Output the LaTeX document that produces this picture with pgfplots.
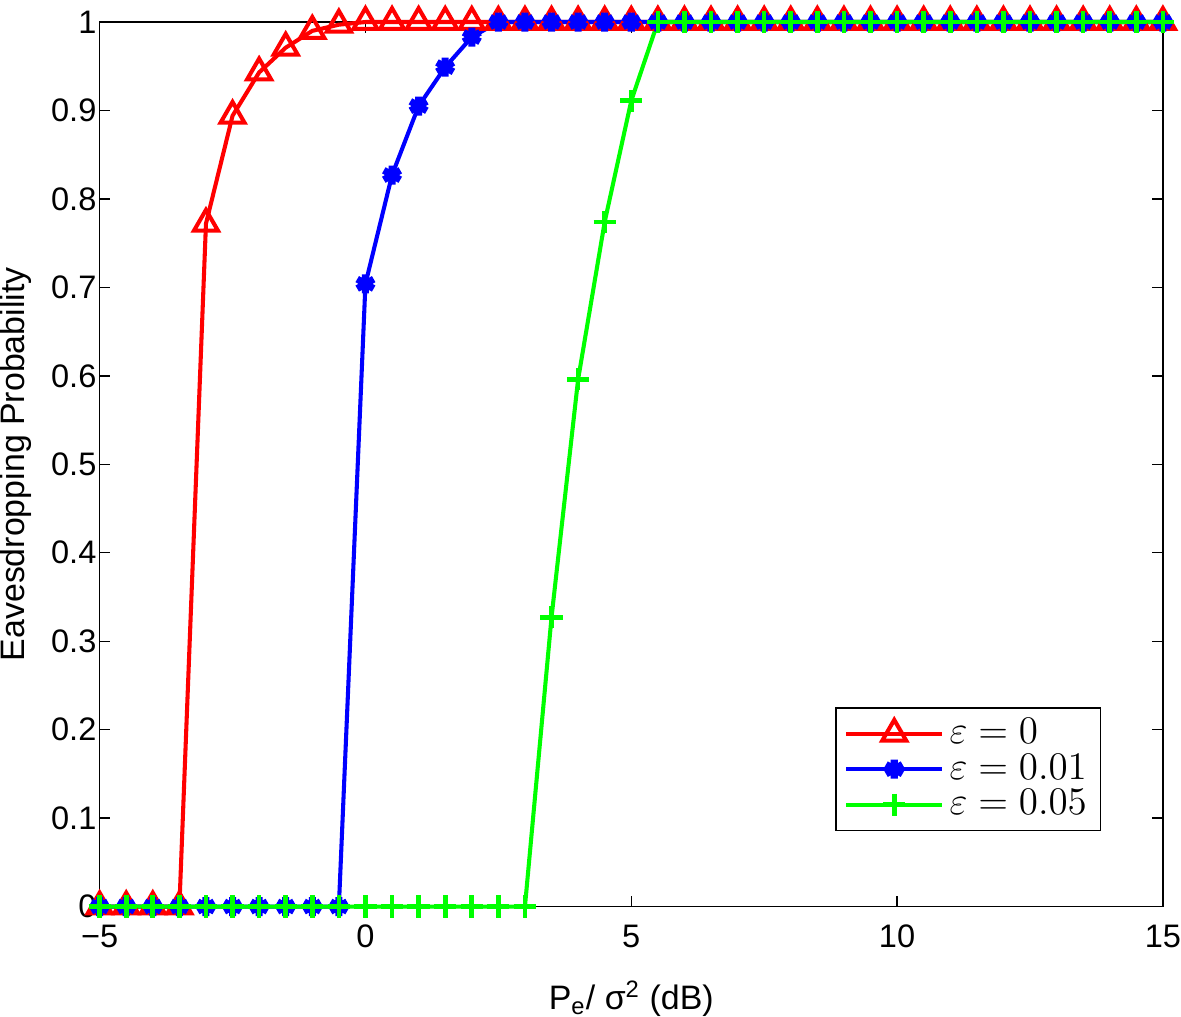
\documentclass[border=0pt]{standalone}
\usepackage{pgfplots}
\pgfplotsset{compat=1.18}
\usepackage{fontspec}
\setmainfont{Liberation Sans}
\begin{document}
\fontsize{12}{14}\selectfont
\begin{tikzpicture}
\begin{axis}[
  scale only axis,
  width=392pt, height=326.1pt,
  xmin=-5, xmax=15, ymin=0, ymax=1,
  xtick={-5,0,5,10,15},
  xticklabels={−5,0,5,10,15},
  ytick={0,0.1,0.2,0.3,0.4,0.5,0.6,0.7,0.8,0.9,1},
  yticklabels={0,0.1,0.2,0.3,0.4,0.5,0.6,0.7,0.8,0.9,1},
  tick align=inside,
  tick pos=both,
  major tick length=4pt,
  axis line style={line width=0.6pt},
  tick style={line width=0.5pt, black},
  every tick label/.append style={font=\fontsize{12}{14}\selectfont},
  xticklabel style={inner xsep=0pt, yshift=-2.5pt},
  yticklabel style={inner xsep=1pt},
  xlabel={P\textsubscript{e}/ σ\textsuperscript{2} (dB)},
  ylabel={Eavesdropping Probability},
  label style={font=\fontsize{12.5}{14}\selectfont},
  xlabel style={inner sep=0pt, yshift=-8pt},
  ylabel style={inner sep=0pt, yshift=6pt},
  clip=false,
  legend style={at={(0.692,0.085)}, anchor=south west, draw=black, line width=0.6pt,
    font=\fontsize{14.5}{16}\selectfont, row sep=-2pt, inner xsep=3pt, inner ysep=2pt},
  legend cell align=left,
  legend image code/.code={
    \draw[mark repeat=2,mark phase=2] plot coordinates {(0cm,0cm) (0.62cm,0cm) (1.24cm,0cm)};},
]
\addplot[red, line width=1.5pt, mark=triangle, mark size=5.1pt, mark options={line width=1.5pt, solid}] coordinates {
(-5,0)(-4.5,0)(-4,0)(-3.5,0)(-3,0.772)(-2.5,0.894)(-2,0.943)(-1.5,0.971)(-1,0.990)(-0.5,0.997)
(0,1)(0.5,1)(1,1)(1.5,1)(2,1)(2.5,1)(3,1)(3.5,1)(4,1)(4.5,1)(5,1)(5.5,1)(6,1)(6.5,1)(7,1)(7.5,1)
(8,1)(8.5,1)(9,1)(9.5,1)(10,1)(10.5,1)(11,1)(11.5,1)(12,1)(12.5,1)(13,1)(13.5,1)(14,1)(14.5,1)(15,1)};
\addlegendentry{$\varepsilon = 0$}
\addplot[blue, line width=1.5pt, mark=asterisk, mark size=3.5pt, mark options={line width=2.6pt, solid}] coordinates {
(-5,0)(-4.5,0)(-4,0)(-3.5,0)(-3,0)(-2.5,0)(-2,0)(-1.5,0)(-1,0)(-0.5,0)
(0,0.704)(0.5,0.827)(1,0.905)(1.5,0.949)(2,0.983)(2.5,1)(3,1)(3.5,1)(4,1)(4.5,1)(5,1)(5.5,1)(6,1)(6.5,1)(7,1)(7.5,1)
(8,1)(8.5,1)(9,1)(9.5,1)(10,1)(10.5,1)(11,1)(11.5,1)(12,1)(12.5,1)(13,1)(13.5,1)(14,1)(14.5,1)(15,1)};
\addlegendentry{$\varepsilon = 0.01$}
\addplot[green, line width=1.5pt, mark=+, mark size=4.1pt, mark options={line width=1.7pt, solid}] coordinates {
(-5,0)(-4.5,0)(-4,0)(-3.5,0)(-3,0)(-2.5,0)(-2,0)(-1.5,0)(-1,0)(-0.5,0)
(0,0)(0.5,0)(1,0)(1.5,0)(2,0)(2.5,0)(3,0)(3.5,0.327)(4,0.596)(4.5,0.774)(5,0.911)(5.5,1)(6,1)(6.5,1)(7,1)(7.5,1)
(8,1)(8.5,1)(9,1)(9.5,1)(10,1)(10.5,1)(11,1)(11.5,1)(12,1)(12.5,1)(13,1)(13.5,1)(14,1)(14.5,1)(15,1)};
\addlegendentry{$\varepsilon = 0.05$}
\end{axis}
\end{tikzpicture}
\end{document}
